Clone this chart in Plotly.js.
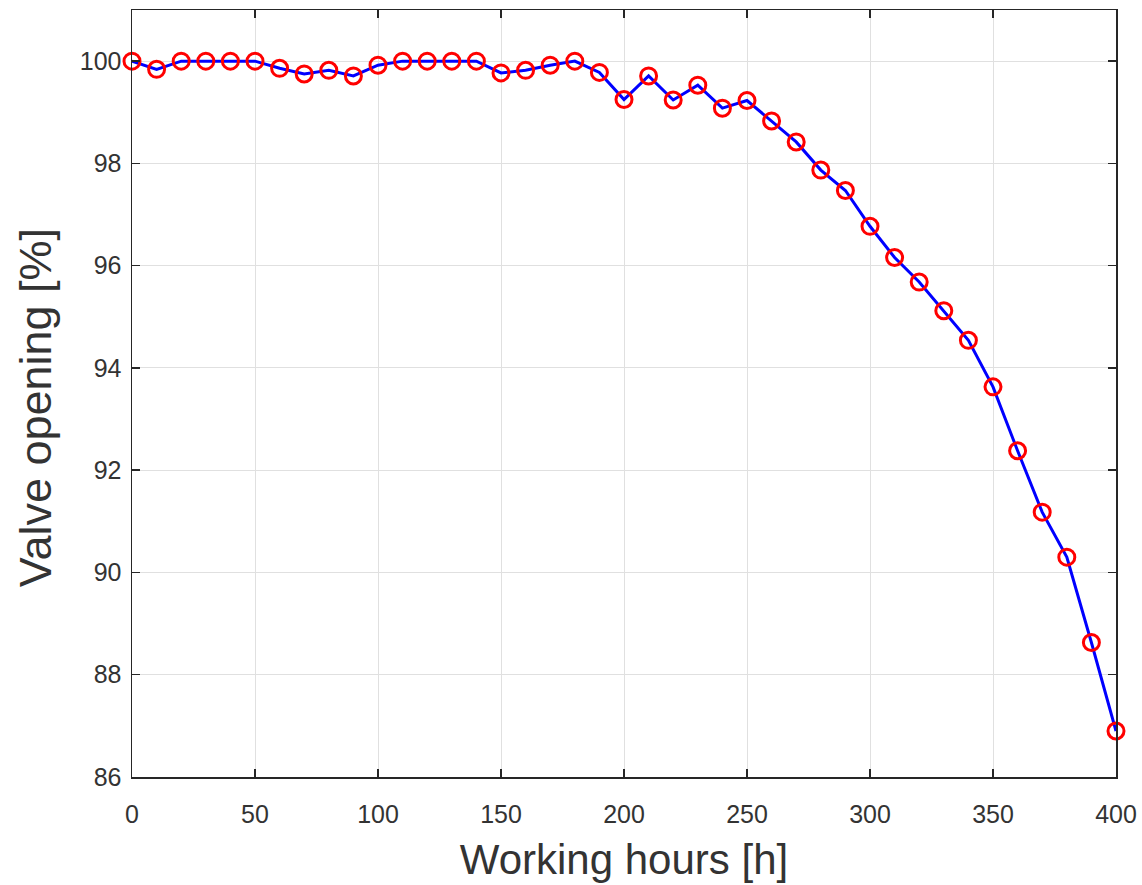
<!DOCTYPE html>
<html>
<head>
<meta charset="utf-8">
<script src="https://cdn.plot.ly/plotly-3.0.1.min.js"></script>
<style>html,body{margin:0;padding:0;background:#fff;}#chart{width:1142px;height:885px;}</style>
</head>
<body>
<div id="chart"></div>
<script>
const hours = [0,10,20,30,40,50,60,70,80,90,100,110,120,130,140,150,160,170,180,190,200,210,220,230,240,250,260,270,280,290,300,310,320,330,340,350,360,370,380,390,400];
const valveOpening = [100,99.84,100,100,100,100,99.86,99.75,99.82,99.71,99.92,100,100,100,100,99.77,99.82,99.92,100,99.78,99.25,99.71,99.24,99.53,99.08,99.23,98.83,98.42,97.87,97.47,96.77,96.16,95.68,95.12,94.54,93.63,92.38,91.18,90.30,88.63,86.90];
const xTicks = [0,50,100,150,200,250,300,350,400];
const yTicks = [86,88,90,92,94,96,98,100];
const xLabel = 'Working hours [h]';
const yLabel = 'Valve opening [%]';

const FONT = 'Liberation Sans, Arial, sans-serif';
const axisCommon = {
  showline: true, linecolor: '#262626', linewidth: 1.5, mirror: 'ticks',
  ticks: 'inside', ticklen: 8, tickwidth: 1.5, tickcolor: '#262626',
  showgrid: true, gridcolor: '#e0e0e0', gridwidth: 1, zeroline: false,
  tickfont: {family: FONT, size: 25, color: '#333333'}
};

const trace = {
  x: hours, y: valveOpening, type: 'scatter', mode: 'lines+markers',
  line: {color: '#0000ff', width: 3},
  marker: {symbol: 'circle-open', size: 16, color: '#ff0000', line: {color: '#ff0000', width: 3}},
  showlegend: false, cliponaxis: false
};

const layout = {
  width: 1142, height: 885,
  margin: {l: 132, r: 26, t: 10, b: 108},
  paper_bgcolor: '#ffffff', plot_bgcolor: '#ffffff',
  xaxis: Object.assign({}, axisCommon, {
    range: [0, 400], tickvals: xTicks, ticktext: xTicks.map(String),
    ticklabelstandoff: 14,
    title: {text: xLabel, font: {family: FONT, size: 42, color: '#333333'}, standoff: 18}
  }),
  yaxis: Object.assign({}, axisCommon, {
    range: [86, 101], tickvals: yTicks, ticktext: yTicks.map(String),
    ticklabelstandoff: 4
  }),
  annotations: [{
    text: yLabel, textangle: -90, showarrow: false,
    xref: 'paper', yref: 'paper', x: -0.0986, y: 0.482,
    xanchor: 'center', yanchor: 'middle',
    font: {family: FONT, size: 45, color: '#333333'}
  }]
};

Plotly.newPlot('chart', [trace], layout, {displayModeBar: false, staticPlot: true});
</script>
</body>
</html>
